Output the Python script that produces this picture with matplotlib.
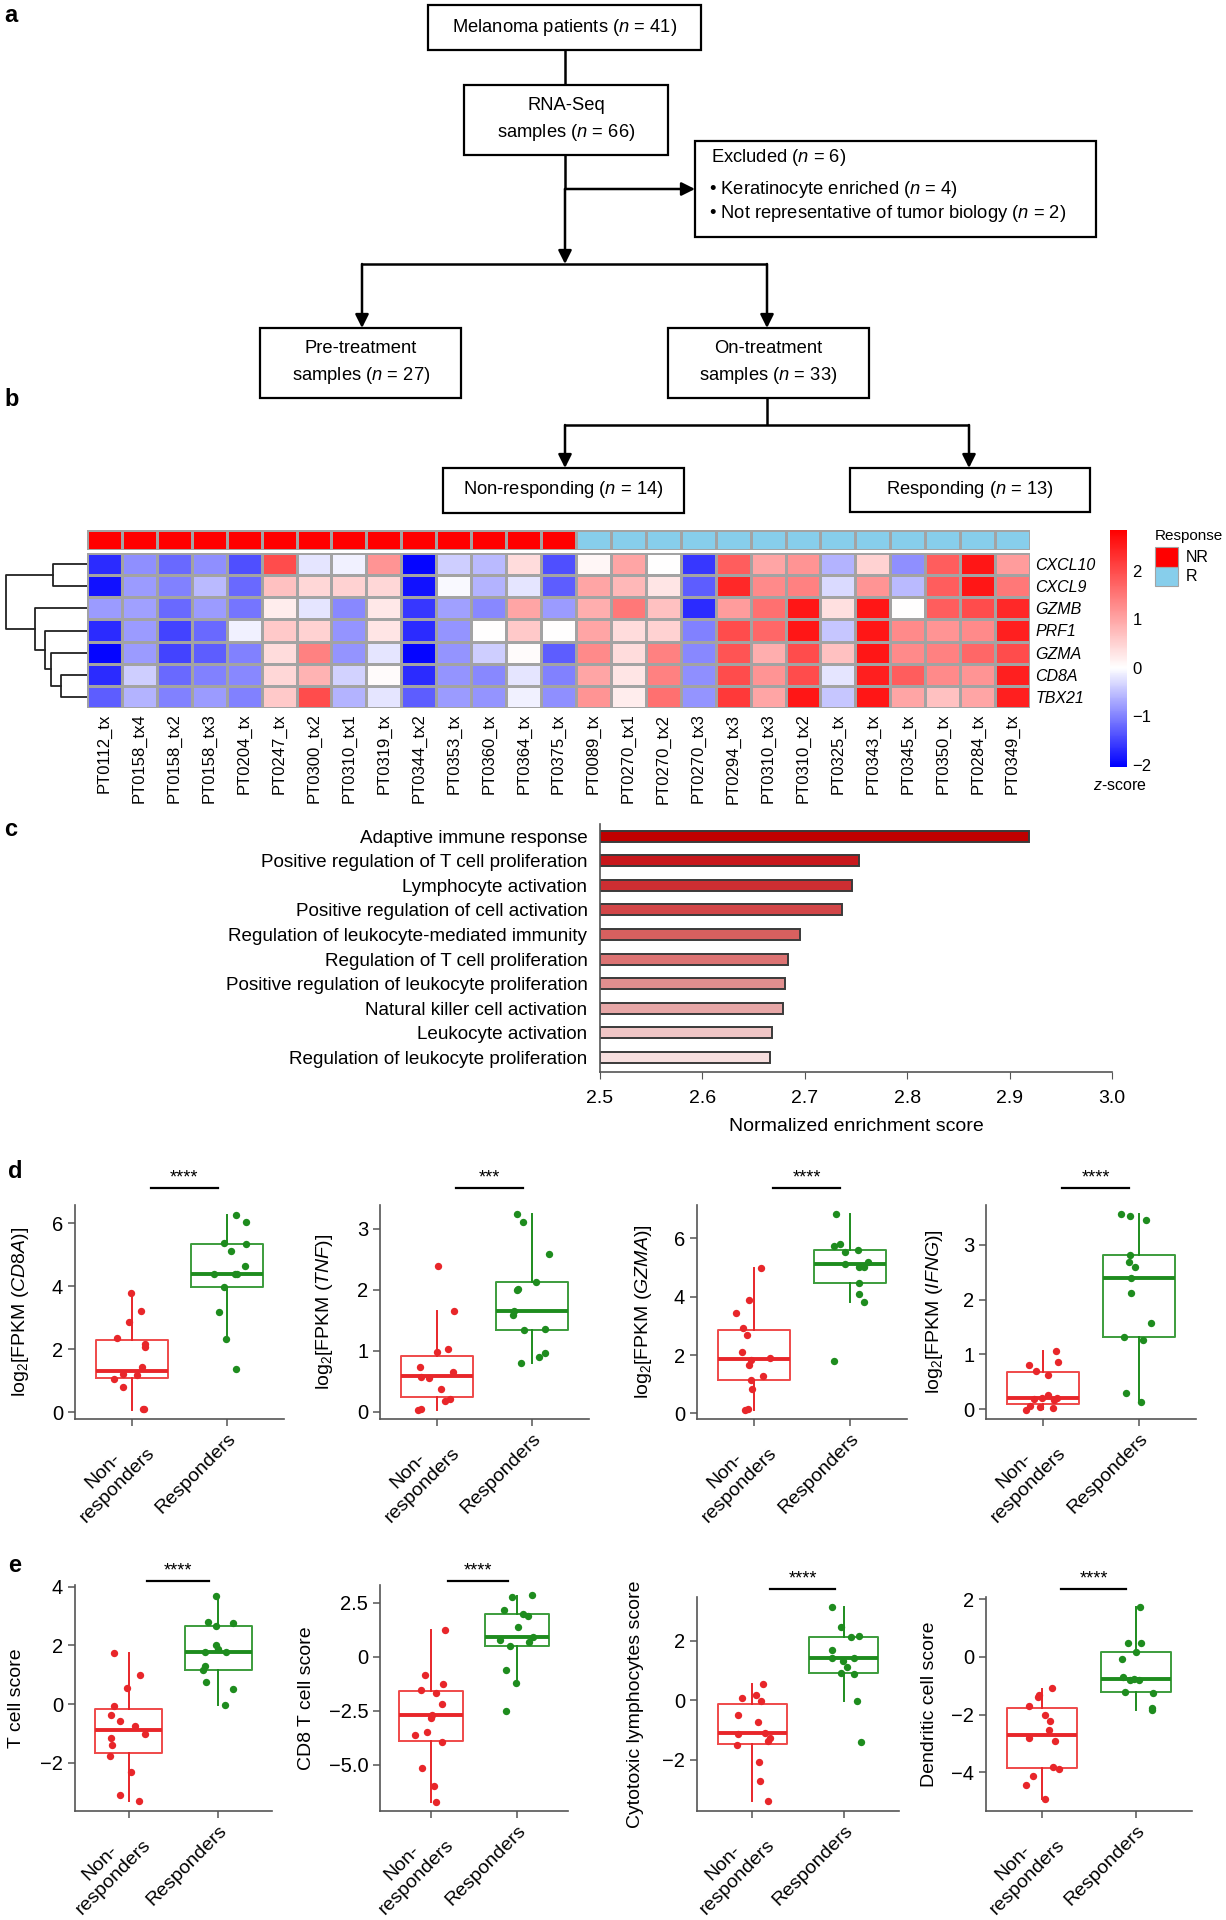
import numpy as np
import matplotlib
matplotlib.use('Agg')
import matplotlib.pyplot as plt
from matplotlib import font_manager
from matplotlib.colors import LinearSegmentedColormap, Normalize, ListedColormap
from matplotlib.patches import Rectangle
from matplotlib.transforms import blended_transform_factory

# ---------------- data ----------------
# heatmap (z-scores)
samples = ['PT0112_tx', 'PT0158_tx4', 'PT0158_tx2', 'PT0158_tx3', 'PT0204_tx', 'PT0247_tx',
           'PT0300_tx2', 'PT0310_tx1', 'PT0319_tx', 'PT0344_tx2', 'PT0353_tx', 'PT0360_tx',
           'PT0364_tx', 'PT0375_tx', 'PT0089_tx', 'PT0270_tx1', 'PT0270_tx2', 'PT0270_tx3',
           'PT0294_tx3', 'PT0310_tx3', 'PT0310_tx2', 'PT0325_tx', 'PT0343_tx', 'PT0345_tx',
           'PT0350_tx', 'PT0284_tx', 'PT0349_tx']
response = ['NR'] * 14 + ['R'] * 13
genes = ['CXCL10', 'CXCL9', 'GZMB', 'PRF1', 'GZMA', 'CD8A', 'TBX21']
z_cxcl10 = [-1.7, -0.9, -1.2, -0.9, -1.4, 2.0, -0.2, -0.1, 1.2, -2.0, -0.4, -0.55, 0.4, -1.4,
            0.1, 1.0, 0.0, -1.6, 1.8, 1.0, 1.2, -0.6, 0.5, -0.9, 1.8, 2.6, 1.1]
z_cxcl9 = [-1.9, -0.8, -1.0, -0.55, -1.2, 0.7, 0.45, 0.5, 0.45, -1.9, -0.05, -0.6, -0.2, -1.3,
           1.0, 0.8, 0.3, -1.3, 2.4, 1.3, 1.4, -0.3, 1.2, -0.55, 1.8, 2.6, 1.5]
z_gzmb = [-0.8, -0.75, -1.2, -0.8, -1.1, 0.2, -0.2, -0.95, 0.25, -1.6, -0.75, -0.95, 1.0, -0.8,
          0.9, 1.5, 0.7, -1.7, 1.1, 1.6, 2.6, 0.35, 2.6, 0.0, 1.8, 2.0, 2.4]
z_prf1 = [-1.7, -0.8, -1.5, -1.2, -0.1, 0.6, 0.5, -0.85, 0.3, -1.7, -0.85, 0.0, 0.6, 0.0,
          1.0, 0.4, 0.5, -1.0, 2.0, 1.7, 2.6, -0.45, 2.6, 1.3, 1.2, 1.3, 2.5]
z_gzma = [-2.0, -0.8, -1.5, -1.3, -1.0, 0.4, 1.4, -0.85, -0.2, -2.0, -0.85, -0.4, 0.05, -1.3,
          1.3, 0.4, 1.4, -0.95, 1.9, 0.9, 2.0, 0.7, 2.6, 1.3, 1.4, 1.7, 2.0]
z_cd8a = [-1.7, -0.4, -1.2, -1.0, -0.95, 0.45, 0.85, -0.35, 0.05, -1.7, -0.85, -0.95, -0.2, -1.0,
          1.0, 0.3, 1.4, -0.9, 2.0, 1.2, 2.0, -0.2, 2.5, 1.8, 1.3, 1.2, 2.5]
z_tbx21 = [-1.3, -0.6, -1.0, -0.8, -1.0, 0.6, 2.0, -0.6, -0.2, -1.3, -0.8, -0.85, -0.1, -0.9,
           1.2, 0.2, 1.6, -0.85, 2.2, 1.0, 2.6, -0.45, 2.6, 1.0, 0.7, 1.0, 2.5]
# row dendrogram: (child a, child b, height); leaves 0..6, new clusters 7..
dend_merges = [(0, 1, 95), (5, 6, 73), (4, 8, 102), (3, 9, 118), (2, 10, 148), (7, 11, 230)]

# GSEA
terms = ['Adaptive immune response', 'Positive regulation of T cell proliferation',
         'Lymphocyte activation', 'Positive regulation of cell activation',
         'Regulation of leukocyte-mediated immunity', 'Regulation of T cell proliferation',
         'Positive regulation of leukocyte proliferation', 'Natural killer cell activation',
         'Leukocyte activation', 'Regulation of leukocyte proliferation']
nes = [2.919, 2.753, 2.746, 2.736, 2.695, 2.684, 2.681, 2.679, 2.668, 2.666]
bar_colors = ['#c00000', '#c8181c', '#cd2e32', '#d24648', '#d7605f', '#dc7373',
              '#e18f8f', '#e7a7a7', '#f0c6c6', '#f7dfdf']

# box plots: values, jitter offsets, box stats [whislo, q1, med, q3, whishi]
cd8a_nr = [3.80, 3.22, 2.88, 2.35, 2.17, 2.09, 1.43, 1.21, 1.18, 1.06, 0.80, 0.11, 0.12]
cd8a_nr_dx = [-0.01, 0.09, -0.03, -0.16, 0.14, 0.14, 0.10, -0.10, 0.05, -0.19, -0.10, 0.13, 0.12]
cd8a_r = [6.27, 6.04, 5.36, 5.33, 5.12, 4.63, 4.39, 4.38, 4.39, 3.97, 3.17, 2.33, 1.38]
cd8a_r_dx = [0.09, 0.20, -0.03, 0.20, 0.04, 0.19, -0.14, 0.08, 0.11, -0.03, -0.08, -0.01, 0.09]
cd8a_box_nr = [0.08, 1.08, 1.32, 2.30, 3.80]
cd8a_box_r = [2.33, 3.97, 4.39, 5.33, 6.27]

tnf_nr = [2.39, 1.66, 1.03, 0.98, 0.73, 0.65, 0.58, 0.55, 0.37, 0.21, 0.18, 0.04, 0.05]
tnf_nr_dx = [0.01, 0.18, 0.12, 0.0, -0.18, 0.17, -0.17, -0.08, 0.04, 0.14, 0.08, -0.20, -0.17]
tnf_r = [3.25, 3.11, 2.59, 2.13, 2.02, 1.99, 1.66, 1.59, 1.35, 1.36, 0.97, 0.90, 0.81]
tnf_r_dx = [-0.16, -0.10, 0.18, 0.04, -0.15, -0.16, -0.19, -0.20, -0.08, 0.14, 0.14, 0.07, -0.12]
tnf_box_nr = [0.04, 0.245, 0.584, 0.917, 1.66]
tnf_box_r = [0.81, 1.35, 1.66, 2.13, 3.25]

gzma_nr = [4.98, 3.87, 3.43, 2.94, 2.70, 2.10, 1.89, 1.84, 1.66, 1.27, 1.13, 0.83, 0.16, 0.13]
gzma_nr_dx = [0.07, -0.06, -0.19, -0.12, -0.08, -0.13, 0.16, -0.03, -0.05, 0.09, -0.03, -0.02, -0.07, -0.10]
gzma_r = [6.82, 5.79, 5.74, 5.60, 5.52, 5.20, 5.12, 5.03, 5.02, 4.48, 4.08, 3.81, 1.79]
gzma_r_dx = [-0.14, -0.10, -0.16, 0.09, -0.05, 0.19, -0.05, 0.10, 0.15, 0.10, 0.10, 0.15, -0.17]
gzma_box_nr = [0.12, 1.15, 1.86, 2.86, 4.97]
gzma_box_r = [3.81, 4.48, 5.12, 5.60, 6.82]

ifng_nr = [1.07, 0.86, 0.80, 0.69, 0.63, 0.26, 0.19, 0.21, 0.21, 0.16, 0.05, 0.04, -0.01, 0.02]
ifng_nr_dx = [0.13, 0.15, -0.15, -0.08, 0.05, 0.05, -0.10, -0.01, 0.14, 0.11, -0.14, -0.03, -0.18, 0.10]
ifng_r = [3.56, 3.52, 3.46, 2.82, 2.68, 2.59, 2.40, 2.13, 1.57, 1.32, 1.26, 0.29, 0.13]
ifng_r_dx = [-0.19, -0.09, 0.08, -0.09, -0.10, -0.04, -0.08, -0.08, 0.13, -0.15, 0.04, -0.13, 0.02]
ifng_box_nr = [0.0, 0.085, 0.21, 0.67, 1.06]
ifng_box_r = [0.13, 1.32, 2.40, 2.82, 3.56]

tcell_nr = [1.74, 1.00, 0.53, -0.06, -0.38, -0.59, -0.75, -1.02, -1.16, -1.40, -1.78, -2.31, -3.11, -3.30]
tcell_nr_dx = [-0.17, 0.13, -0.02, -0.17, -0.20, -0.10, 0.07, 0.18, -0.20, -0.19, -0.21, 0.02, -0.10, 0.11]
tcell_r = [3.68, 2.81, 2.77, 2.66, 2.00, 1.89, 1.77, 1.77, 1.30, 1.16, 0.74, 0.50, -0.02]
tcell_r_dx = [-0.03, -0.12, 0.16, -0.02, -0.03, 0.0, -0.15, 0.09, -0.15, -0.17, -0.14, 0.16, 0.07]
tcell_box_nr = [-3.30, -1.67, -0.89, -0.16, 1.73]
tcell_box_r = [-0.02, 1.16, 1.76, 2.66, 3.68]

cd8t_nr = [1.23, -0.82, -1.25, -1.54, -1.68, -2.18, -2.67, -2.81, -3.49, -3.63, -3.95, -5.14, -5.97, -6.70]
cd8t_nr_dx = [0.16, -0.07, 0.14, -0.12, 0.06, 0.13, 0.01, 0.0, -0.05, -0.19, 0.13, -0.11, 0.03, 0.05]
cd8t_r = [2.85, 2.75, 2.16, 1.98, 1.87, 1.40, 0.90, 0.77, 0.69, 0.51, -0.59, -1.19, -2.52]
cd8t_r_dx = [0.18, -0.06, -0.15, 0.07, 0.13, 0.01, 0.19, -0.19, 0.14, -0.08, -0.12, -0.01, -0.13]
cd8t_box_nr = [-6.70, -3.89, -2.70, -1.59, 1.23]
cd8t_box_r = [-1.19, 0.52, 0.90, 1.99, 2.82]

ctl_nr = [0.56, 0.07, 0.16, -0.01, -0.48, -0.74, -1.13, -1.08, -1.25, -1.37, -1.51, -2.08, -2.70, -3.38]
ctl_nr_dx = [0.12, -0.11, 0.04, 0.10, -0.15, 0.06, -0.15, 0.14, 0.19, 0.17, -0.16, 0.08, 0.09, 0.17]
ctl_r = [3.14, 2.45, 2.12, 2.14, 1.69, 1.40, 1.40, 1.33, 1.10, 0.90, 0.89, -0.01, -1.40]
ctl_r_dx = [-0.13, -0.03, 0.08, 0.16, -0.13, -0.13, 0.11, -0.01, 0.03, -0.03, 0.11, 0.14, 0.19]
ctl_box_nr = [-3.38, -1.46, -1.09, -0.12, 0.55]
ctl_box_r = [-0.01, 0.90, 1.40, 2.11, 3.12]

dc_nr = [-1.09, -1.33, -1.40, -1.69, -2.01, -2.23, -2.55, -2.83, -2.92, -3.83, -3.89, -4.13, -4.45, -4.94]
dc_nr_dx = [0.11, -0.03, -0.04, -0.14, 0.03, 0.08, 0.07, -0.14, 0.14, 0.12, 0.18, -0.10, -0.17, 0.03]
dc_r = [1.75, 0.50, 0.48, 0.18, -0.08, -0.69, -0.79, -0.81, -0.78, -1.22, -1.26, -1.77, -1.84]
dc_r_dx = [0.04, -0.08, 0.05, 0.0, -0.15, -0.14, -0.06, 0.03, -0.02, -0.12, 0.18, 0.17, 0.17]
dc_box_nr = [-4.94, -3.87, -2.70, -1.78, -1.10]
dc_box_r = [-1.83, -1.22, -0.78, 0.18, 1.75]

groups = ['Non-\nresponders', 'Responders']

# ---------------- style ----------------
plt.rcParams['font.family'] = ['Liberation Sans', 'DejaVu Sans']
plt.rcParams['mathtext.fontset'] = 'custom'
plt.rcParams['mathtext.rm'] = 'Liberation Sans'
plt.rcParams['mathtext.it'] = 'Liberation Sans:italic'


def pick_narrow():
    try:
        font_manager.findfont('Liberation Sans Narrow', fallback_to_default=False)
        return 'Liberation Sans Narrow'
    except Exception:
        return 'Liberation Sans'


NARROW = pick_narrow()
FLOW_SIZE = 14.5 if NARROW != 'Liberation Sans' else 13.2
RED, RED_BOX = '#e8262a', '#ef4a4a'
GREEN, GREEN_BOX = '#1e8c1e', '#3c9c3c'
SPINE = '#555555'

W, H = 1226, 1920
fig = plt.figure(figsize=(W / 100, H / 100), dpi=100)


def px_axes(x0, y0, x1, y1):
    return fig.add_axes([x0 / W, 1 - y1 / H, (x1 - x0) / W, (y1 - y0) / H])


ov = fig.add_axes([0, 0, 1, 1])
ov.set_xlim(0, W)
ov.set_ylim(H, 0)
ov.axis('off')

# ---------------- a: flowchart ----------------
def box(x0, y0, x1, y1):
    ov.add_patch(Rectangle((x0, y0), x1 - x0, y1 - y0, fill=False, lw=1.6, ec='k'))


def arrow(x0, y0, x1, y1):
    ov.annotate('', xy=(x1, y1), xytext=(x0, y0),
                arrowprops=dict(arrowstyle='-|>', lw=1.8, color='k', mutation_scale=20,
                                shrinkA=0, shrinkB=0))


def line(xs, ys):
    ov.plot(xs, ys, color='k', lw=1.8, solid_capstyle='butt')


fkw = dict(fontsize=FLOW_SIZE, family=NARROW, ha='center', va='center')
box(428, 5, 701, 50)
ov.text(565, 27, r'Melanoma patients ($\it{n}$ = 41)', **fkw)
line([565, 565], [50, 85])
box(464, 85, 668, 155)
ov.text(566, 120, 'RNA-Seq\nsamples ($\\it{n}$ = 66)', linespacing=1.5, **fkw)
line([565, 565], [155, 189])
arrow(565, 189, 695, 189)
arrow(565, 189, 565, 264)
box(695, 141, 1096, 237)
lkw = dict(fontsize=FLOW_SIZE, family=NARROW, ha='left', va='center')
ov.text(711, 157, r'Excluded ($\it{n}$ = 6)', **lkw)
ov.text(709, 189, '\u2022 Keratinocyte enriched ($\\it{n}$ = 4)', **lkw)
ov.text(709, 214, '\u2022 Not representative of tumor biology ($\\it{n}$ = 2)', **lkw)
line([362, 767], [264, 264])
arrow(362, 264, 362, 328)
arrow(767, 264, 767, 328)
box(260, 328, 461, 398)
ov.text(361, 363, 'Pre-treatment\nsamples ($\\it{n}$ = 27)', linespacing=1.5, **fkw)
box(668, 328, 869, 398)
ov.text(768, 363, 'On-treatment\nsamples ($\\it{n}$ = 33)', linespacing=1.5, **fkw)
line([767, 767], [398, 425])
line([565, 969], [425, 425])
arrow(565, 425, 565, 468)
arrow(969, 425, 969, 468)
box(443, 468, 684, 513)
ov.text(563, 490, r'Non-responding ($\it{n}$ = 14)', **fkw)
box(850, 468, 1090, 512)
ov.text(970, 490, r'Responding ($\it{n}$ = 13)', **fkw)

for lab, (lx, ly) in zip('abcde', [(4, 15), (4, 400), (4, 829), (8, 1172), (8, 1565)]):
    ov.text(lx, ly, lab, fontsize=17, fontweight='bold', ha='left', va='center')

# ---------------- b: heatmap ----------------
zmat = np.array([z_cxcl10, z_cxcl9, z_gzmb, z_prf1, z_gzma, z_cd8a, z_tbx21])
vmin, vmax = -2.05, 2.85
f0 = -vmin / (vmax - vmin)
cmap = LinearSegmentedColormap.from_list('bwr_z', [(0, '#0000ff'), (f0, '#ffffff'), (1, '#ff0000')])
norm = Normalize(vmin, vmax)

hm = px_axes(87, 553, 1030, 708)
mesh = hm.pcolormesh(zmat, cmap=cmap, norm=norm, edgecolors='#a3a3a3', linewidth=0.9)
hm.set_xlim(0, len(samples))
hm.set_ylim(len(genes), 0)
hm.set_xticks(np.arange(len(samples)) + 0.5)
hm.set_xticklabels(samples, rotation=90, fontsize=12)
hm.set_yticks(np.arange(len(genes)) + 0.5)
hm.set_yticklabels(genes, fontsize=11.5, style='italic')
hm.yaxis.tick_right()
hm.tick_params(length=0, pad=4)
for s in hm.spines.values():
    s.set_visible(False)

ann = px_axes(87, 530, 1030, 550)
codes = np.array([[0 if r == 'NR' else 1 for r in response]])
ann.pcolormesh(codes, cmap=ListedColormap(['#ff0000', '#87ceeb']), vmin=0, vmax=1,
               edgecolors='#a3a3a3', linewidth=0.9)
ann.set_xlim(0, len(samples))
ann.axis('off')

# dendrogram
den = px_axes(5, 553, 87, 708)
pos = {i: i + 0.5 for i in range(len(genes))}
hgt = {i: 0 for i in range(len(genes))}
for k, (a, b, h) in enumerate(dend_merges):
    new = len(genes) + k
    den.plot([hgt[a], h, h, hgt[b]], [pos[a], pos[a], pos[b], pos[b]], color='#222222', lw=1.3)
    pos[new] = (pos[a] + pos[b]) / 2
    hgt[new] = h
den.set_xlim(max(m[2] for m in dend_merges) + 2, 0)
den.set_ylim(len(genes), 0)
den.axis('off')

cax = px_axes(1110, 530, 1127, 767)
cb = fig.colorbar(mesh, cax=cax, ticks=[-2, -1, 0, 1, 2])
cb.outline.set_visible(False)
cax.tick_params(length=0, labelsize=12, pad=4)
ov.text(1120, 785, r'$\it{z}$-score', fontsize=11.5, ha='center', va='center')

ov.text(1155, 536, 'Response', fontsize=11, ha='left', va='center')
for i, (r, c) in enumerate([('NR', '#ff0000'), ('R', '#87ceeb')]):
    ov.add_patch(Rectangle((1155, 547 + i * 19.5), 23, 19.5, fc=c, ec='#a3a3a3', lw=0.8))
    ov.text(1186, 557 + i * 19.5, r, fontsize=11.5, ha='left', va='center')

# ---------------- c: GSEA bars ----------------
bx = px_axes(600, 824, 1112, 1072)
yb = np.arange(len(terms))
bx.barh(yb, np.array(nes) - 2.5, left=2.5, height=0.45, color=bar_colors,
        edgecolor='#3a3a3a', linewidth=1.4)
bx.set_xlim(2.5, 3.0)
bx.set_ylim(len(terms) - 0.4, -0.5)
bx.set_yticks(yb)
bx.set_yticklabels(terms, fontsize=13.6 if NARROW == 'Liberation Sans' else 15, family=NARROW)
bx.tick_params(axis='y', length=0, pad=9)
bx.set_xticks(np.arange(2.5, 3.01, 0.1))
bx.set_xticklabels(['%.1f' % v for v in np.arange(2.5, 3.01, 0.1)], fontsize=14, family=NARROW)
bx.tick_params(axis='x', length=5, color=SPINE, pad=8)
bx.set_xlabel('Normalized enrichment score', fontsize=14, labelpad=8)
for s in ('top', 'right'):
    bx.spines[s].set_visible(False)
for s in ('left', 'bottom'):
    bx.spines[s].set_color(SPINE)
    bx.spines[s].set_linewidth(1.2)

# ---------------- d, e: box plots ----------------
def box_panel(rect, nr, nr_dx, r, r_dx, st_nr, st_r, ylim, yticks, yticklabels,
              ylabel, label_x, stars, bar_y):
    ax = px_axes(*rect)
    for p, vals, dx, st, col, bcol in ((1, nr, nr_dx, st_nr, RED, RED_BOX),
                                        (2, r, r_dx, st_r, GREEN, GREEN_BOX)):
        stats = [dict(whislo=st[0], q1=st[1], med=st[2], q3=st[3], whishi=st[4], fliers=[])]
        ax.bxp(stats, positions=[p], widths=0.75, showfliers=False, showcaps=False,
               boxprops=dict(color=bcol, lw=1.4), whiskerprops=dict(color=col, lw=1.4),
               medianprops=dict(color=col, lw=2.8))
        ax.scatter(p + np.array(dx), vals, s=28, color=col, lw=0, zorder=3)
    ax.set_xlim(0.4, 2.6)
    ax.set_ylim(*ylim)
    ax.set_yticks(yticks)
    ax.set_yticklabels(yticklabels, fontsize=14.5)
    ax.set_xticks([1, 2])
    ax.set_xticklabels(groups, rotation=45, ha='right', va='top', rotation_mode='anchor',
                       multialignment='center', fontsize=14)
    ax.tick_params(length=5, color=SPINE, width=1.1)
    ax.tick_params(axis='x', pad=3)
    for s in ('top', 'right'):
        ax.spines[s].set_visible(False)
    for s in ('left', 'bottom'):
        ax.spines[s].set_color(SPINE)
        ax.spines[s].set_linewidth(1.2)
    ax.set_ylabel(ylabel, fontsize=14)
    ax.yaxis.set_label_coords(label_x, 0.5)
    tr = blended_transform_factory(ax.transData, ax.transAxes)
    ax.plot([1.2, 1.9], [bar_y, bar_y], color='k', lw=1.6, transform=tr, clip_on=False)
    ax.text(1.55, bar_y + 0.008, stars, transform=tr, ha='center', va='bottom', fontsize=13)
    return ax


lab_d = r'log$_2$[FPKM ($\it{%s}$)]'
box_panel((75, 1205, 284, 1419), cd8a_nr, cd8a_nr_dx, cd8a_r, cd8a_r_dx, cd8a_box_nr, cd8a_box_r,
          (-0.21, 6.58), [0, 2, 4, 6], ['0', '2', '4', '6'], lab_d % 'CD8A', -0.21, '****', 1.078)
box_panel((380, 1205, 589, 1419), tnf_nr, tnf_nr_dx, tnf_r, tnf_r_dx, tnf_box_nr, tnf_box_r,
          (-0.115, 3.39), [0, 1, 2, 3], ['0', '1', '2', '3'], lab_d % 'TNF', -0.215, '***', 1.078)
box_panel((697, 1205, 907, 1419), gzma_nr, gzma_nr_dx, gzma_r, gzma_r_dx, gzma_box_nr, gzma_box_r,
          (-0.19, 7.14), [0, 2, 4, 6], ['0', '2', '4', '6'], lab_d % 'GZMA', -0.205, '****', 1.078)
box_panel((986, 1205, 1196, 1419), ifng_nr, ifng_nr_dx, ifng_r, ifng_r_dx, ifng_box_nr, ifng_box_r,
          (-0.18, 3.73), [0, 1, 2, 3], ['0', '1', '2', '3'], lab_d % 'IFNG', -0.195, '****', 1.078)

box_panel((75, 1585, 272, 1811), tcell_nr, tcell_nr_dx, tcell_r, tcell_r_dx, tcell_box_nr, tcell_box_r,
          (-3.65, 4.06), [-2, 0, 2, 4], ['\u22122', '0', '2', '4'], 'T cell score', -0.255, '****', 1.018)
box_panel((380, 1585, 568, 1811), cd8t_nr, cd8t_nr_dx, cd8t_r, cd8t_r_dx, cd8t_box_nr, cd8t_box_r,
          (-7.13, 3.32), [-5, -2.5, 0, 2.5], ['\u22125.0', '\u22122.5', '0', '2.5'],
          'CD8 T cell score', -0.347, '****', 1.018)
box_panel((697, 1597, 899, 1811), ctl_nr, ctl_nr_dx, ctl_r, ctl_r_dx, ctl_box_nr, ctl_box_r,
          (-3.71, 3.46), [-2, 0, 2], ['\u22122', '0', '2'], 'Cytotoxic lymphocytes score',
          -0.263, '****', 1.036)
box_panel((986, 1597, 1192, 1811), dc_nr, dc_nr_dx, dc_r, dc_r_dx, dc_box_nr, dc_box_r,
          (-5.35, 2.08), [-4, -2, 0, 2], ['\u22124', '\u22122', '0', '2'], 'Dendritic cell score',
          -0.232, '****', 1.036)

fig.savefig('out.png', dpi=100)
